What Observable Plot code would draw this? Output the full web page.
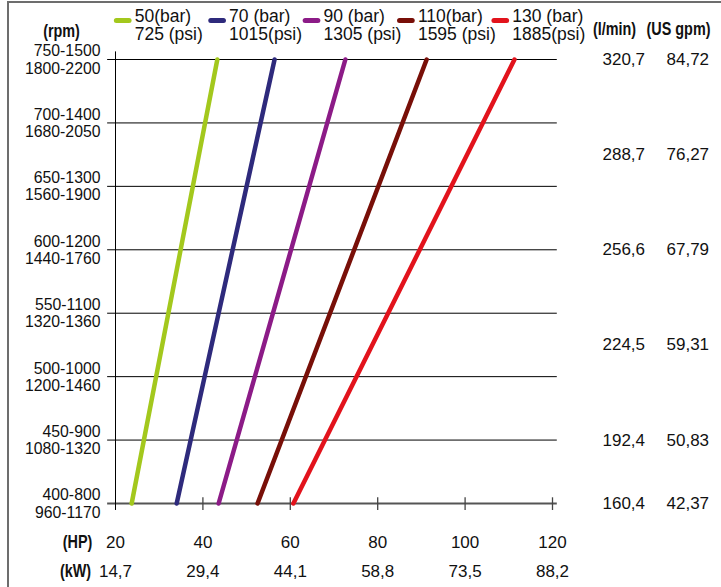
<!DOCTYPE html>
<html><head><meta charset="utf-8">
<script src="https://cdn.jsdelivr.net/npm/d3@7"></script>
<script src="https://cdn.jsdelivr.net/npm/@observablehq/plot@0.6"></script>
<style>
body{margin:0;background:#fff;}
#wrap{position:relative;width:721px;height:587px;overflow:hidden;}
#wrap svg{display:block;}
#border{position:absolute;left:7px;top:1px;width:714px;height:586px;border-left:2px solid #6d6d6d;border-top:2px solid #6d6d6d;pointer-events:none;box-sizing:border-box;}
</style></head><body><div id="wrap"><div id="border"></div></div>
<script>
// ---- data ----
const rpmLabels = ["400-800\n960-1170","450-900\n1080-1320","500-1000\n1200-1460","550-1100\n1320-1360","600-1200\n1440-1760","650-1300\n1560-1900","700-1400\n1680-2050","750-1500\n1800-2200"];
const rpmUpper = [800,900,1000,1100,1200,1300,1400,1500];
const pressureBar = ["50(bar)","70 (bar)","90 (bar)","110(bar)","130 (bar)"];
const pressurePsi = ["725 (psi)","1015(psi)","1305 (psi)","1595 (psi)","1885(psi)"];
const hpLow = [23.7, 34.0, 43.6, 52.5, 60.7];
const hpHigh = [43.3, 56.4, 72.6, 91.2, 111.3];
const seriesColors = ["#a3c81d","#2e2a7c","#8c1b87","#780f08","#e2131c"];
const flowLmin = ["320,7","288,7","256,6","224,5","192,4","160,4"];
const flowGpm = ["84,72","76,27","67,79","59,31","50,83","42,37"];
const hpTicks = [20,40,60,80,100,120];
const kwLabels = ["14,7","29,4","44,1","58,8","73,5","88,2"];

// ---- derived tables ----
const rows = rpmLabels.map((t,i)=>({row:i,text:t}));
const topRow = rows.length-1;
const series = pressureBar.map((b,i)=>({bar:b,psi:pressurePsi[i],lo:hpLow[i],hi:hpHigh[i],color:seriesColors[i],i}));
const flowNum = flowLmin.map(s=>+s.replace(",","."));
const fMax = d3.max(flowNum), rpmMax = d3.max(rpmUpper), rpmMin = d3.min(rpmUpper);
const rpmStep = rpmUpper[1]-rpmUpper[0];
// flow is proportional to rpm: place each flow value at its rpm row (clamped to the bottom row)
const flows = flowLmin.map((s,i)=>({l:s,g:flowGpm[i],row:Math.max(0,(flowNum[i]/fMax*rpmMax - rpmMin)/rpmStep)}));
const ticks = hpTicks.map((h,i)=>({hp:h,kw:kwLabels[i]}));

const legendX = i => 24.4 + i*21.6;   // layout of legend entries (HP units)
const regular = "'Liberation Sans',Arial,Helvetica,sans-serif";
const boldFam = "'Liberation Sans',Arial,sans-serif";
const hdr = {fontFamily:boldFam, fontWeight:"bold", fontSize:18, fill:"#111"};

const chart = Plot.plot({
  width: 721, height: 587,
  marginLeft: 115, marginRight: 169, marginTop: 59, marginBottom: 84,
  x: {domain:[20,120], axis:null},
  y: {domain:[0,topRow], axis:null},
  style: {fontFamily: regular, background:"transparent", color:"#000"},
  marks: [
    // grid lines
    Plot.ruleY(rows.filter(d=>d.row>0), {y:"row", x1:18.2, x2:121.1, stroke:"#000", strokeWidth:1}),
    Plot.ruleY([0], {x1:18.2, x2:121.1, stroke:"#555", strokeWidth:2}),
    // bottom ticks
    Plot.ruleX(hpTicks.slice(1), {x:d=>d, y1:-0.11, y2:0.09, stroke:"#444", strokeWidth:1.3}),
    // vertical axis
    Plot.ruleX([20], {y1:-0.11, y2:topRow+0.12, stroke:"#000", strokeWidth:1}),
    // series lines
    Plot.link(series, {x1:"lo", y1:()=>0, x2:"hi", y2:()=>topRow, stroke:"color", strokeWidth:4.5, strokeLinecap:"round"}),
    // left rpm labels
    Plot.text(rows, {x:()=>20, y:"row", text:"text", dx:-15, textAnchor:"end", lineAnchor:"middle", lineHeight:1.08, fontSize:15.8, fill:"#111"}),
    // right flow labels
    Plot.text(flows, {x:()=>20, y:"row", text:"l", dx:487, textAnchor:"start", fontSize:17, fill:"#111"}),
    Plot.text(flows, {x:()=>20, y:"row", text:"g", dx:551, textAnchor:"start", fontSize:17, fill:"#111"}),
    // headers
    Plot.text(["(rpm)"], {x:()=>20, y:()=>topRow, dx:-54, dy:-28, text:d=>d, ...hdr}),
    Plot.text(["(l/min)"], {x:()=>20, y:()=>topRow, dx:499, dy:-30, text:d=>d, ...hdr}),
    Plot.text(["(US gpm)"], {x:()=>20, y:()=>topRow, dx:563, dy:-30, text:d=>d, ...hdr}),
    // legend
    Plot.link(series, {x1:d=>legendX(d.i)-4.2, x2:d=>legendX(d.i)-1.3, y1:()=>topRow, y2:()=>topRow, dy:-39, stroke:"color", strokeWidth:5, strokeLinecap:"round"}),
    Plot.text(series, {x:d=>legendX(d.i), y:()=>topRow, dy:-34, text:d=>d.bar+"\n"+d.psi, textAnchor:"start", lineAnchor:"middle", lineHeight:1.0, fontSize:17.5, fill:"#111"}),
    // bottom labels
    Plot.text(ticks, {x:"hp", y:()=>0, dy:39, text:d=>String(d.hp), fontSize:17, fill:"#111"}),
    Plot.text(ticks, {x:"hp", y:()=>0, dy:68, text:"kw", fontSize:17, fill:"#111"}),
    Plot.text(["(HP)"], {x:()=>20, y:()=>0, dx:-38, dy:39, text:d=>d, ...hdr}),
    Plot.text(["(kW)"], {x:()=>20, y:()=>0, dx:-40, dy:68, text:d=>d, ...hdr})
  ]
});
// condensed look for the bold unit headers
d3.select(chart).selectAll('g[font-weight="bold"] text').each(function(){
  const t = this.getAttribute("transform") || "";
  this.setAttribute("transform", t + " scale(0.8,1)");
});
document.getElementById("wrap").prepend(chart);
</script></body></html>
